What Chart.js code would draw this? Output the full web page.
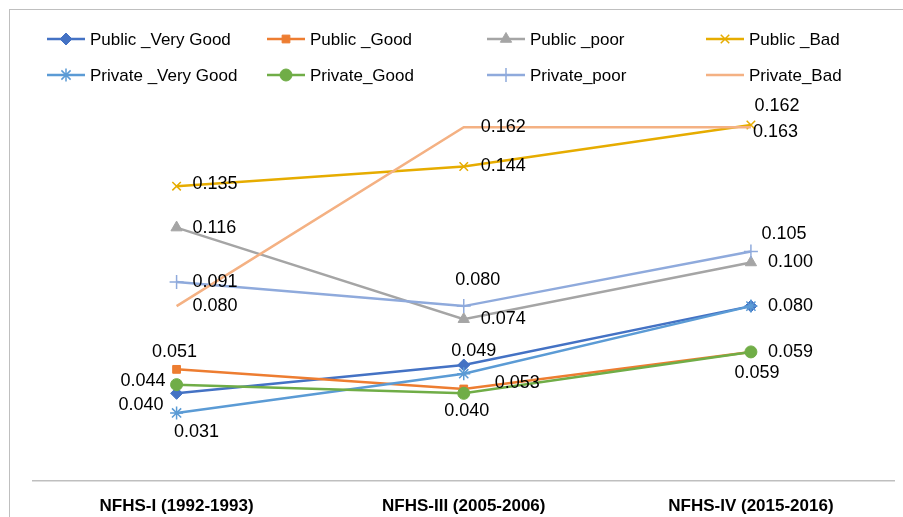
<!DOCTYPE html>
<html>
<head>
<meta charset="utf-8">
<script src="https://cdn.jsdelivr.net/npm/chart.js@4/dist/chart.umd.min.js"></script>
<style>
html,body{margin:0;padding:0;background:#fff;overflow:hidden;}
#wrap{position:relative;width:903px;height:517px;overflow:hidden;background:#fff;}
#frame{position:absolute;left:9px;top:9px;width:1000px;height:600px;border:1px solid #bfbfbf;}
#chart{position:absolute;left:0;top:0;}
</style>
</head>
<body>
<div id="wrap">
<div id="frame"></div>
<canvas id="chart" width="903" height="535"></canvas>
</div>
<script>
// survey rounds
const rounds = ["NFHS-I (1992-1993)", "NFHS-III (2005-2006)", "NFHS-IV (2015-2016)"];

const seriesNames = ["Public _Very Good","Public _Good","Public _poor","Public _Bad",
"Private _Very Good","Private_Good","Private_poor","Private_Bad"];

const publicVeryGood = [0.040, 0.053, 0.080];
const publicGood = [0.051, 0.042, 0.059];
const publicPoor = [0.116, 0.074, 0.100];
const publicBad = [0.135, 0.144, 0.163];
const privateVeryGood = [0.031, 0.049, 0.080];
const privateGood = [0.044, 0.040, 0.059];
const privatePoor = [0.091, 0.080, 0.105];
const privateBad = [0.080, 0.162, 0.162];

const yMin = 0;
const yMax = 0.18;

const colors = ["#4472C4","#ED7D31","#A5A5A5","#E6AC00","#5B9BD5","#70AD47","#8FAADC","#F4B183"];
const markers = ["rectRot","rect","triangle","crossRot","star","circle","cross",false];
const markerSize = [6,5.5,6.5,6,6.5,6,7,0];

// label placement per point: [dx, dy, align] ; null = no label
const labelPos = [
 [[-13,12,"right"],[31,18,"left"],[17,0,"left"]],
 [[-2,-17,"center"],null,[6,21,"center"]],
 [[16,0,"left"],[17,0,"left"],[17,0,"left"]],
 [[16,-2,"left"],[17,0,"left"],[2,7,"left"]],
 [[20,19,"center"],[10,-23,"center"],null],
 [[-11,-4,"right"],[3,18,"center"],[17,0,"left"]],
 [[16,0,"left"],[14,-26,"center"],[33,-18,"center"]],
 [[16,0,"left"],[17,0,"left"],[26,-21,"center"]]
];

const allSeries = [publicVeryGood,publicGood,publicPoor,publicBad,privateVeryGood,privateGood,privatePoor,privateBad];

const datasets = allSeries.map((vals,i)=>({
 label: seriesNames[i],
 data: vals,
 borderColor: colors[i],
 backgroundColor: colors[i],
 borderWidth: 2.5,
 pointStyle: markers[i],
 pointRadius: markerSize[i],
 pointBackgroundColor: colors[i],
 pointBorderColor: colors[i],
 pointBorderWidth: (markers[i]==="cross"||markers[i]==="crossRot"||markers[i]==="star") ? 1.5 : 1,
 tension: 0,
 order: 10 - i
}));

const labelPlugin = {
 id: "valueLabels",
 afterDatasetsDraw(chart){
  const ctx = chart.ctx;
  ctx.save();
  ctx.font = "18px 'Liberation Sans', Arial, sans-serif";
  ctx.fillStyle = "#000";
  ctx.textBaseline = "middle";
  chart.data.datasets.forEach((ds,i)=>{
   const meta = chart.getDatasetMeta(i);
   meta.data.forEach((pt,j)=>{
    const p = labelPos[i][j];
    if(!p) return;
    ctx.textAlign = p[2];
    ctx.fillText(ds.data[j].toFixed(3), pt.x + p[0], pt.y + p[1]);
   });
  });
  ctx.restore();
 }
};

const legendPlugin = {
 id: "gridLegend",
 afterDraw(chart){
  const ctx = chart.ctx;
  const colX = [47, 267, 487, 706];
  const rowY = [39, 75];
  ctx.save();
  ctx.font = "17px 'Liberation Sans', Arial, sans-serif";
  ctx.textBaseline = "middle";
  ctx.textAlign = "left";
  chart.data.datasets.forEach((ds,i)=>{
   const x = colX[i%4];
   const y = rowY[Math.floor(i/4)];
   ctx.strokeStyle = ds.borderColor;
   ctx.lineWidth = 2.5;
   ctx.beginPath();
   ctx.moveTo(x,y);
   ctx.lineTo(x+38,y);
   ctx.stroke();
   if(ds.pointStyle){
    ctx.fillStyle = ds.pointBackgroundColor;
    ctx.lineWidth = ds.pointBorderWidth;
    Chart.helpers.drawPoint(ctx,{pointStyle:ds.pointStyle,radius:ds.pointRadius,borderWidth:ds.pointBorderWidth,rotation:0},x+19,y);
   }
   ctx.fillStyle = "#000";
   ctx.fillText(ds.label, x+43, y+1);
  });
  ctx.restore();
 }
};

new Chart(document.getElementById("chart"),{
 type:"line",
 data:{labels:rounds, datasets:datasets},
 options:{
  responsive:false,
  animation:false,
  layout:{padding:{left:33,right:4.5,top:88,bottom:2}},
  plugins:{legend:{display:false},tooltip:{enabled:false}},
  scales:{
   x:{
    offset:true,
    grid:{display:false,drawTicks:false},
    border:{display:true,color:"#bfbfbf",width:1.5},
    ticks:{color:"#000",padding:16,font:{family:"'Liberation Sans', Arial, sans-serif",size:17,weight:"bold"},maxRotation:0}
   },
   y:{display:false,min:yMin,max:yMax}
  }
 },
 plugins:[labelPlugin,legendPlugin]
});
</script>
</body>
</html>
